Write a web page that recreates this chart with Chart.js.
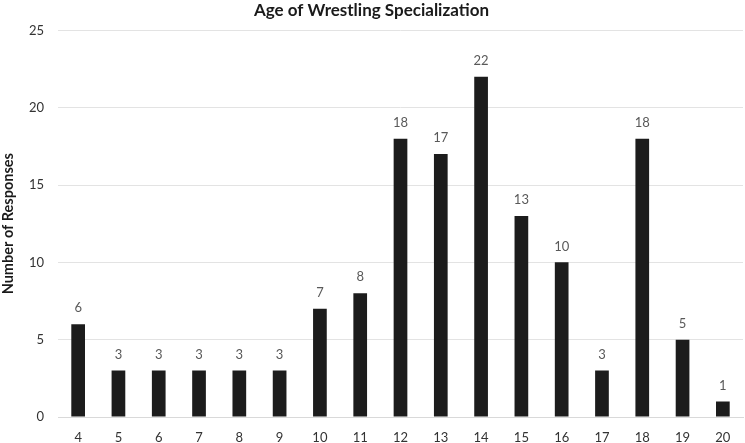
<!DOCTYPE html>
<html>
<head>
<meta charset="utf-8">
<script src="https://cdn.jsdelivr.net/npm/chart.js@4"></script>
<style>
  html, body { margin: 0; padding: 0; background: #fff; }
  #wrap { width: 745px; height: 443px; }
</style>
</head>
<body>
<div id="wrap"><canvas id="ageChart" width="745" height="443"></canvas></div>
<script>
const ages = ['4', '5', '6', '7', '8', '9', '10', '11', '12', '13', '14', '15', '16', '17', '18', '19', '20'];
const responses = [6, 3, 3, 3, 3, 3, 7, 8, 18, 17, 22, 13, 10, 3, 18, 5, 1];
const yTicks = [0, 5, 10, 15, 20, 25];

const FONT = 'Lato, "Open Sans", sans-serif';

// value labels above each bar
const barLabels = {
    id: 'barLabels',
    afterDatasetsDraw(chart) {
        const ctx = chart.ctx;
        const meta = chart.getDatasetMeta(0);
        ctx.save();
        ctx.font = '13px ' + FONT;
        ctx.fillStyle = '#595959';
        ctx.textAlign = 'center';
        ctx.textBaseline = 'middle';
        meta.data.forEach((bar, i) => {
            ctx.fillText(String(responses[i]), bar.x, bar.y - 16);
        });
        ctx.restore();
    }
};

new Chart(document.getElementById('ageChart'), {
    type: 'bar',
    data: {
        labels: ages,
        datasets: [{
            data: responses,
            backgroundColor: '#1c1c1c',
            categoryPercentage: 1,
            barPercentage: 0.34
        }]
    },
    options: {
        responsive: false,
        animation: false,
        layout: { padding: { left: 0, right: 2, top: 0, bottom: 0 } },
        plugins: {
            legend: { display: false },
            tooltip: { enabled: false },
            title: {
                display: true,
                text: 'Age of Wrestling Specialization',
                color: '#1a1a1a',
                font: { family: FONT, size: 17, weight: 'bold' },
                padding: { top: 0, bottom: 10 }
            }
        },
        scales: {
            x: {
                grid: { display: false },
                border: { color: '#d9d9d9' },
                ticks: { color: '#333', font: { family: FONT, size: 13 }, padding: 5 },
                afterFit(s) { s.height = 26; }
            },
            y: {
                min: 0,
                max: 25,
                afterBuildTicks(s) { s.ticks = yTicks.map(v => ({ value: v })); },
                grid: { color: '#e3e3e3', drawTicks: false },
                border: { display: false },
                ticks: { color: '#333', font: { family: FONT, size: 13 }, padding: 14 },
                title: {
                    display: true,
                    text: 'Number of Responses',
                    color: '#1a1a1a',
                    font: { family: FONT, size: 14.5, weight: 'bold' },
                    padding: { top: 0, bottom: 0 }
                },
                afterFit(s) { s.width = 58; }
            }
        }
    },
    plugins: [barLabels]
});
</script>
</body>
</html>
